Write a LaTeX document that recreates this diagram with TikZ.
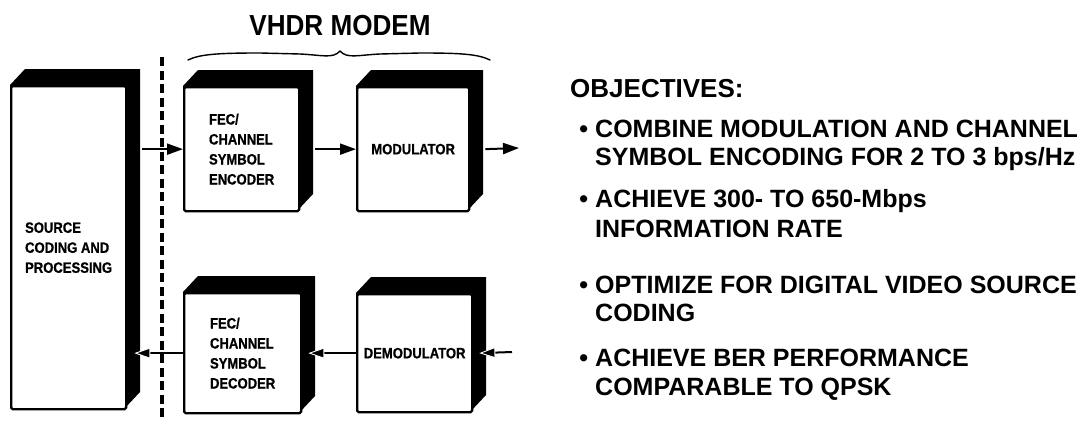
\documentclass[tikz,border=0pt]{standalone}
\usepackage{fontspec}
\setmainfont{Liberation Sans}
\newfontfamily\boxfont{Liberation Sans}[FakeStretch=0.87, BoldFeatures={FakeBold=0.8}]
\newfontfamily\titlefont{Liberation Sans}[FakeStretch=0.9]
\usetikzlibrary{arrows.meta,calc}

\tikzset{
  face/.style={draw=black, line width=2.3pt, fill=white, rounded corners=1.5pt,
    inner sep=0pt, anchor=north west},
  boxtext/.style={align=left, inner sep=0pt,
    font=\boxfont\bfseries\fontsize{15}{20}\selectfont},
  depthfill/.style={fill=black},
  conn/.style={line width=2pt, -{Triangle[length=16pt,width=11pt]}},
  connb/.style={line width=2pt,
    -{Triangle[length=16pt,width=11pt,color=white,fill=black,line width=0.9pt]}},
  dashline/.style={line width=3.6pt, dash pattern=on 9pt off 4.5pt},
  bracepath/.style={line width=1.4pt, line cap=round, line join=round},
  bigtext/.style={inner sep=0pt, anchor=base west,
    font=\bfseries\fontsize{25}{29}\selectfont},
  titletext/.style={inner sep=0pt, anchor=base,
    font=\titlefont\bfseries\fontsize{29}{31}\selectfont},
}

% #1 name, #2 x, #3 y (top), #4 width, #5 height, #6 text
\newcommand\blockbox[6]{%
  \fill[depthfill] (#2,#3) -- ++(15,-16) -- ++(#4,0) -- ++(0,#5) -- ++(-15,16)
     -- ++(-#4,0) -- cycle;
  \node[face, minimum width=#4pt, minimum height=#5pt] (#1) at (#2,#3) {};
  \node[boxtext] (#1t) at (#1.center) {#6};
}

\begin{document}
\begin{tikzpicture}[x=1pt,y=-1pt]
\useasboundingbox (0,0) rectangle (1083,420);

% title and brace
\node[titletext] (title) at (340,36) {VHDR MODEM};
\coordinate (brl) at (188,60);
\coordinate (brtip) at (340,51);
\coordinate (brr) at (490,60);
\draw[bracepath] (brl) .. controls (200,54) and (220,53) .. (260,53)
   -- (300,54) .. controls (322,55) and (333,59) .. (brtip)
   .. controls (347,59) and (358,55) .. (380,54)
   -- (420,53) .. controls (460,53) and (478,54) .. (brr);

% blocks
\blockbox{src}{10}{85}{115}{323}{SOURCE\\CODING AND\\PROCESSING}
\blockbox{enc}{183}{86}{115}{124}{FEC/\\CHANNEL\\SYMBOL\\ENCODER}
\blockbox{mod}{356}{86}{112}{124}{MODULATOR}
\blockbox{dec}{183}{292}{117}{120}{FEC/\\CHANNEL\\SYMBOL\\DECODER}
\blockbox{demod}{356}{293}{115}{118}{DEMODULATOR}

% dashed boundary
\coordinate (dtop) at (162,57);
\coordinate (dbot) at (162,420);
\draw[dashline] (dtop) -- (dbot);

% connectors
\coordinate (outp) at (519,148);
\coordinate (inp) at (512,352);
\draw[conn] ([xshift=15pt]src.east |- enc.west) -- (enc.west);
\draw[conn] ([xshift=15pt]enc.east) -- (mod.west);
\draw[conn] ([xshift=15pt]mod.east) -- (outp);
\draw[connb] (inp) -- ([xshift=6pt]demod.east);
\draw[connb] (demod.west) -- ([xshift=6pt]dec.east |- demod.west);
\draw[connb] (dec.west) -- ([xshift=7pt]src.east |- dec.west);

% objectives
\node[bigtext, font=\bfseries\fontsize{26}{29}\selectfont] (objh) at (570,97) {OBJECTIVES:};
\newcommand\bul{\llap{\textbullet\hspace{7pt}}}
\node[bigtext] (l1) at (595,137) {\bul COMBINE MODULATION AND CHANNEL};
\node[bigtext] (l2) at (595,165) {SYMBOL ENCODING FOR 2 TO 3 bps/Hz};
\node[bigtext] (l3) at (595,207) {\bul ACHIEVE 300- TO 650-Mbps};
\node[bigtext] (l4) at (595,237) {INFORMATION RATE};
\node[bigtext] (l5) at (595,293) {\bul OPTIMIZE FOR DIGITAL VIDEO SOURCE};
\node[bigtext] (l6) at (595,321) {CODING};
\node[bigtext] (l7) at (595,366) {\bul ACHIEVE BER PERFORMANCE};
\node[bigtext] (l8) at (595,395) {COMPARABLE TO QPSK};
\end{tikzpicture}
\end{document}
